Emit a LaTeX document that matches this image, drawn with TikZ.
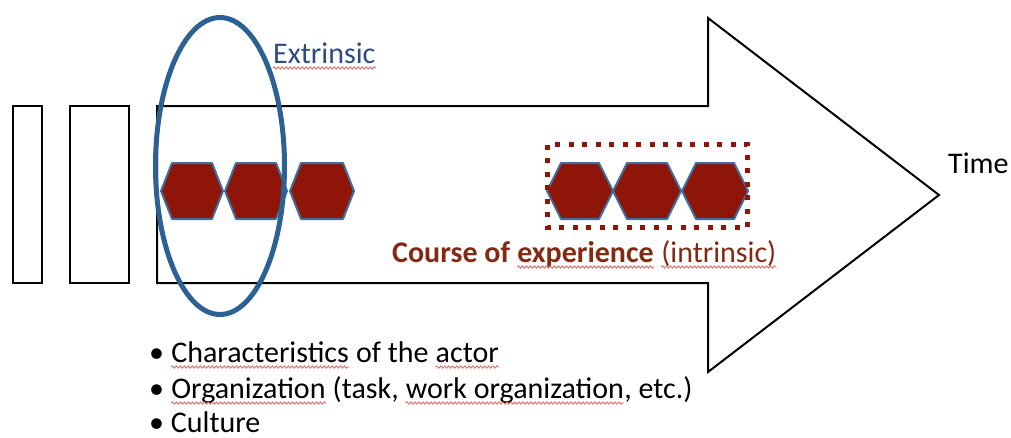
\documentclass[tikz,border=0pt]{standalone}
\usepackage{fontspec}
\setmainfont{Carlito}
\usetikzlibrary{decorations.pathmorphing}
\definecolor{hexred}{HTML}{8E1508}
\definecolor{hexblue}{HTML}{3D6E9E}
\definecolor{ellblue}{HTML}{2C6193}
\definecolor{extblue}{HTML}{2E4C80}
\definecolor{coursered}{HTML}{842A12}
\definecolor{squig}{HTML}{E8605A}
\newcommand\wsp{\kern0.226em}
\tikzset{
  lbl/.style={inner sep=0pt, anchor=base west, font=\fontsize{30}{36}\selectfont},
  box/.style={draw=black, line width=2pt},
  hexa/.style={fill=hexred, draw=hexblue, line width=2pt, line join=round},
  wavy/.style={draw=squig, line width=0.8pt, decorate,
     decoration={snake, amplitude=1.2pt, segment length=4pt}},
}
% hexagon: centre x, centre y, half width, half height, inset
\newcommand\hexagon[5]{%
  \draw[hexa] (#1-#3,#2) -- (#1-#3+#5,#2-#4) -- (#1+#3-#5,#2-#4) -- (#1+#3,#2)
     -- (#1+#3-#5,#2+#4) -- (#1-#3+#5,#2+#4) -- cycle;}
\newcommand\squiggle[1]{%
  \draw[wavy] ([yshift=-5pt]#1.base west) -- ([yshift=-5pt]#1.base east);}
\begin{document}
\begin{tikzpicture}[x=1pt,y=-1pt]
\useasboundingbox (0,0) rectangle (1011,437);
% big arrow
\draw[box, line join=miter] (157,106) -- (708,106) -- (708,18) -- (939,195)
   -- (708,372) -- (708,283) -- (157,283) -- cycle;
% left bars
\draw[box] (13,106) rectangle (42,283);
\draw[box] (70,106) rectangle (129,283);
% left hexagons
\hexagon{192}{191}{31}{28}{11}
\hexagon{256}{191}{31}{28}{11}
\hexagon{322}{191}{32}{28}{11}
% right hexagons
\hexagon{580}{191}{33}{28}{14}
\hexagon{647}{191}{34}{28}{14}
\hexagon{715}{191}{33}{28}{14}
% dotted frame
\draw[hexred, line width=5pt, dash pattern=on 5pt off 8.5pt] (547.5,144.5) rectangle (747.5,227.5);
% ellipse
\draw[ellblue, line width=5pt] (220,166) ellipse [x radius=64.5, y radius=148.5];
% labels
\node[lbl, text=extblue] (ext) at (273,63) {Extrinsic};
\node[lbl] (time) at (948,173) {Time};
\node[lbl, text=coursered] (c1) at (392,262) {\textbf{Course of}\wsp};
\node[lbl, text=coursered] (c2) at (c1.base east) {\textbf{experience}};
\node[lbl, text=coursered] (c3) at (c2.base east) {\wsp};
\node[lbl, text=coursered] (c4) at (c3.base east) {(intrinsic)};
\node[lbl] (b1a) at (149,362) {\textbullet\wsp};
\node[lbl] (b1b) at (b1a.base east) {Characteristics};
\node[lbl] (b1c) at (b1b.base east) {\wsp of the\wsp};
\node[lbl] (b1d) at (b1c.base east) {actor};
\node[lbl] (b2a) at (149,398) {\textbullet\wsp};
\node[lbl] (b2b) at (b2a.base east) {Organization};
\node[lbl] (b2c) at (b2b.base east) {\wsp(task,\wsp};
\node[lbl] (b2d) at (b2c.base east) {work organization};
\node[lbl] (b2e) at (b2d.base east) {, etc.)};
\node[lbl] (b3) at (149,432) {\textbullet\wsp Culture};
\squiggle{ext}
\squiggle{c2}
\squiggle{c4}
\squiggle{b1b}
\squiggle{b1d}
\squiggle{b2b}
\squiggle{b2d}
\end{tikzpicture}
\end{document}
